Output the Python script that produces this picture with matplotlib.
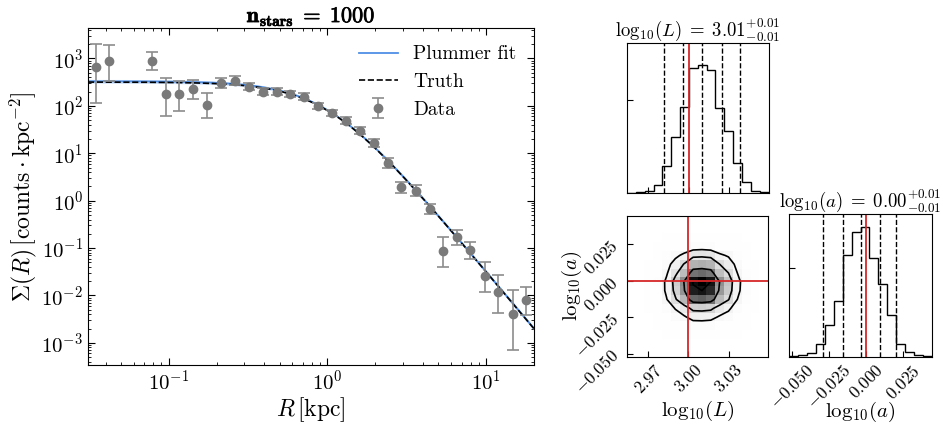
import numpy as np
import matplotlib
matplotlib.use("Agg")
import matplotlib.pyplot as plt
import matplotlib.patheffects as pe
from matplotlib.ticker import LogLocator, NullFormatter, FuncFormatter
from matplotlib.colors import LinearSegmentedColormap

plt.rcParams.update({
    "font.family": "serif",
    "font.serif": ["cmr10", "DejaVu Serif"],
    "mathtext.fontset": "cm",
    "axes.formatter.use_mathtext": True,
    "axes.unicode_minus": False,
})

# ---------------- data ----------------
R_data = [0.0349, 0.0422, 0.0785, 0.0962, 0.1166, 0.1428, 0.1734, 0.2142, 0.2612,
          0.3198, 0.390, 0.4775, 0.5848, 0.7125, 0.873, 1.072, 1.303, 1.596, 1.955,
          2.404, 2.918, 3.59, 4.40, 5.33, 6.57, 7.96, 9.86, 11.95, 14.69, 17.86]
sigma_data = [646, 865, 894, 177, 177, 229, 102, 311, 343, 256, 201, 201, 180, 157,
              100, 70.3, 49, 30.1, 16.3, 6.36, 1.92, 1.63, 0.669, 0.0867, 0.171,
              0.0897, 0.0257, 0.0118, 0.00399, 0.00787]
sigma_lo = [114, 327, 577, 61.7, 79.8, 139, 55, 244, 278, 218, 171, 171, 153, 134,
            85, 60, 41.7, 25.6, 13.4, 5.0, 1.47, 1.27, 0.52, 0.0393, 0.116, 0.0587,
            0.0120, 0.00419, 0.000703, 0.00385]
sigma_hi = [2046, 1945, 1365, 397, 327, 355, 186, 397, 417, 301, 236, 236, 211, 184,
            117, 83, 57.6, 35.4, 19.8, 8.1, 2.5, 2.09, 0.86, 0.169, 0.241, 0.136,
            0.0515, 0.027, 0.0130, 0.0153]

TRUE_LOGL, TRUE_LOGA = 3.00, 0.00
FIT_LOGL, FIT_LOGA = 3.010, -0.0035
ERR_LOGL, ERR_LOGA = 0.0146, 0.0125

xlim = (0.031, 20.0)
ylim = (3.4e-4, 4.4e3)

# corner plot data
L_range = (2.954, 3.0596)
A_range = (-0.052, 0.0444)
L_counts = [2, 4, 8, 25, 83, 170, 260, 377, 387, 370, 255, 187, 90, 35, 7, 3]
A_counts = [3, 5, 12, 37, 93, 167, 303, 370, 385, 293, 217, 125, 37, 15, 5, 2]
L_quantiles = [2.9814, 2.9955, 3.010, 3.0246, 3.0385]
A_quantiles = [-0.029, -0.0154, -0.0035, 0.0096, 0.0202]
# 2D histogram, rows = log10(a) bins (bottom to top), cols = log10(L) bins
H2d = [
    [0, 0, 0, 0, 0, 0, 0, 0, 0, 0, 0, 0, 0, 0, 0, 0],
    [0, 0, 0, 0, 0, 0, 0, 0, 0, 0, 0, 0, 0, 0, 0, 0],
    [0, 0, 0, 0, 1, 1, 2, 3, 3, 3, 2, 1, 1, 0, 0, 0],
    [0, 0, 0, 1, 2, 4, 6, 9, 10, 9, 6, 5, 2, 1, 0, 0],
    [0, 0, 0, 2, 5, 11, 16, 24, 24, 23, 16, 12, 6, 2, 0, 0],
    [0, 0, 1, 3, 9, 19, 29, 42, 43, 41, 29, 21, 10, 4, 1, 0],
    [0, 0, 1, 5, 17, 35, 53, 77, 79, 75, 52, 38, 18, 7, 1, 0],
    [0, 0, 1, 6, 21, 42, 65, 94, 96, 92, 63, 46, 22, 9, 1, 0],
    [0, 0, 1, 7, 21, 44, 67, 97, 100, 96, 66, 48, 23, 9, 1, 0],
    [0, 0, 1, 5, 16, 33, 51, 74, 76, 73, 50, 37, 18, 7, 1, 0],
    [0, 0, 1, 4, 12, 25, 38, 55, 56, 54, 37, 27, 13, 5, 1, 0],
    [0, 0, 0, 2, 7, 14, 22, 32, 33, 31, 21, 16, 8, 3, 0, 0],
    [0, 0, 0, 1, 2, 4, 6, 9, 10, 9, 6, 5, 2, 1, 0, 0],
    [0, 0, 0, 0, 1, 2, 3, 4, 4, 4, 3, 2, 1, 0, 0, 0],
    [0, 0, 0, 0, 0, 0, 0, 0, 0, 0, 0, 0, 0, 0, 0, 0],
    [0, 0, 0, 0, 0, 0, 0, 0, 0, 0, 0, 0, 0, 0, 0, 0],
]

BLUE = "#4f8fe6"
RED = "#d62728"
W, Hpx = 941, 428


def plummer(R, logL, loga):
    L = 10.0 ** logL
    a = 10.0 ** loga
    return L / (np.pi * a ** 2) * (1.0 + (R / a) ** 2) ** -2


fig = plt.figure(figsize=(W / 100, Hpx / 100), dpi=100)

# ---------------- left panel ----------------
ax = fig.add_axes([88 / W, 1 - 365 / Hpx, 446 / W, 337 / Hpx])
Rg = np.logspace(np.log10(xlim[0]), np.log10(xlim[1]), 500)
curves = [plummer(Rg, FIT_LOGL + sl * ERR_LOGL, FIT_LOGA + sa * ERR_LOGA)
          for sl in (-1, 1) for sa in (-1, 1)]
band_lo = np.min(curves, axis=0)
band_hi = np.max(curves, axis=0)
ax.fill_between(Rg, band_lo, band_hi, color=BLUE, alpha=0.3, lw=0)
ax.plot(Rg, plummer(Rg, FIT_LOGL, FIT_LOGA), color=BLUE, lw=1.3, label="Plummer fit")
ax.plot(Rg, plummer(Rg, TRUE_LOGL, TRUE_LOGA), color="k", ls="--", lw=1.2, label="Truth")
S = np.array(sigma_data)
yerr = [S - np.array(sigma_lo), np.array(sigma_hi) - S]
ax.errorbar(R_data, S, yerr=yerr, fmt="o", color="#7a7a7a", ecolor="#8c8c8c",
            ms=6, capsize=4, elinewidth=1.2, capthick=1.2, label="Data")
ax.set_xscale("log")
ax.set_yscale("log")
ax.set_xlim(*xlim)
ax.set_ylim(*ylim)
ax.yaxis.set_major_locator(LogLocator(base=10, numticks=20))
ax.yaxis.set_minor_locator(LogLocator(base=10, subs=np.arange(2, 10), numticks=100))
ax.yaxis.set_minor_formatter(NullFormatter())
ax.xaxis.set_minor_locator(LogLocator(base=10, subs=np.arange(2, 10), numticks=100))
ax.xaxis.set_minor_formatter(NullFormatter())
ax.tick_params(which="both", direction="in", top=True, right=True, labelsize=15)
ax.tick_params(which="major", length=5)
ax.tick_params(which="minor", length=2.5)
ax.set_xlabel(r"$R\,[\mathrm{kpc}]$", fontsize=17, labelpad=1)
ax.set_ylabel(r"$\Sigma(R)\,[\mathrm{counts}\cdot\mathrm{kpc}^{-2}]$", fontsize=17, labelpad=2)
ttl = ax.set_title(r"$\mathbf{n_{stars}}\;=\;\mathbf{1000}$", fontsize=16, pad=4)
ttl.set_path_effects([pe.withStroke(linewidth=0.5, foreground="k")])
ax.legend(loc="upper right", frameon=False, fontsize=14)

# ---------------- corner plot ----------------
axL = fig.add_axes([627 / W, 1 - 193.3 / Hpx, 141.5 / W, 150.6 / Hpx])
ax2 = fig.add_axes([626.7 / W, 1 - 356.7 / Hpx, 141.6 / W, 141 / Hpx])
axA = fig.add_axes([789.3 / W, 1 - 356.7 / Hpx, 142.4 / W, 142.4 / Hpx])

L_edges = np.linspace(L_range[0], L_range[1], len(L_counts) + 1)
A_edges = np.linspace(A_range[0], A_range[1], len(A_counts) + 1)

Lfmt = FuncFormatter(lambda v, p: r"$%.2f$" % v)
Afmt = FuncFormatter(lambda v, p: r"$%.3f$" % v)

# top-left: log10(L) histogram
axL.stairs(L_counts, L_edges, color="k", lw=1.0)
for q in L_quantiles:
    axL.axvline(q, color="k", ls="--", lw=1.0)
axL.axvline(TRUE_LOGL, color=RED, lw=1.3)
axL.set_xlim(*L_range)
axL.set_ylim(0, 1.17 * max(L_counts))
axL.set_xticks([2.97, 3.00, 3.03])
axL.set_xticklabels([])
axL.set_yticks([0.62 * 1.17 * max(L_counts)])
axL.set_yticklabels([])
axL.tick_params(direction="in", length=4)
axL.set_title(r"$\mathrm{log}_{10}(L)\;=\;3.01^{+0.01}_{-0.01}$", fontsize=13.5, pad=5)

# bottom-right: log10(a) histogram
axA.stairs(A_counts, A_edges, color="k", lw=1.0)
for q in A_quantiles:
    axA.axvline(q, color="k", ls="--", lw=1.0)
axA.axvline(TRUE_LOGA, color=RED, lw=1.3)
axA.set_xlim(*A_range)
axA.set_ylim(0, 1.1 * max(A_counts))
axA.set_xticks([-0.050, -0.025, 0.000, 0.025])
axA.xaxis.set_major_formatter(Afmt)
axA.set_yticks([0.62 * 1.1 * max(A_counts)])
axA.set_yticklabels([])
axA.tick_params(direction="in", length=4, labelsize=12.5)
for lab in axA.get_xticklabels():
    lab.set_rotation(45)
axA.set_title(r"$\mathrm{log}_{10}(a)\;=\;0.00^{+0.01}_{-0.01}$", fontsize=13.5, pad=5)
axA.set_xlabel(r"$\mathrm{log}_{10}(a)$", fontsize=15)
axA.xaxis.set_label_coords(0.5, -0.3)

# bottom-left: 2D density
H = np.array(H2d, dtype=float)
density_cmap = LinearSegmentedColormap.from_list("density", ["k", (1, 1, 1, 0)])
ax2.pcolormesh(L_edges, A_edges, H.max() - H, cmap=density_cmap, shading="flat")
Lc = 0.5 * (L_edges[1:] + L_edges[:-1])
Ac = 0.5 * (A_edges[1:] + A_edges[:-1])
levels = 1.0 - np.exp(-0.5 * np.array([0.5, 1.0, 1.5, 2.0]) ** 2)
Hflat = np.sort(H.flatten())[::-1]
cs = np.cumsum(Hflat)
cs /= cs[-1]
V = []
for v0 in levels:
    sel = Hflat[cs <= v0]
    V.append(sel[-1] if len(sel) else Hflat[0])
V = np.sort(np.array(V))
for i in range(1, len(V)):
    if V[i] <= V[i - 1]:
        V[i] = V[i - 1] + 1e-6
V[-1] = min(V[-1], 0.97 * H.max())
ax2.contour(Lc, Ac, H, np.sort(V), colors="k", linewidths=1.2)
ax2.axvline(TRUE_LOGL, color=RED, lw=1.3)
ax2.axhline(TRUE_LOGA, color=RED, lw=1.3)
ax2.set_xlim(*L_range)
ax2.set_ylim(*A_range)
ax2.set_xticks([2.97, 3.00, 3.03])
ax2.set_yticks([-0.050, -0.025, 0.000, 0.025])
ax2.xaxis.set_major_formatter(Lfmt)
ax2.yaxis.set_major_formatter(Afmt)
ax2.tick_params(direction="in", length=4, labelsize=12.5)
for lab in ax2.get_xticklabels():
    lab.set_rotation(45)
for lab in ax2.get_yticklabels():
    lab.set_rotation(45)
ax2.set_xlabel(r"$\mathrm{log}_{10}(L)$", fontsize=15)
ax2.set_ylabel(r"$\mathrm{log}_{10}(a)$", fontsize=15)
ax2.xaxis.set_label_coords(0.5, -0.3)
ax2.yaxis.set_label_coords(-0.3, 0.5)

fig.savefig("out.png", dpi=100)
